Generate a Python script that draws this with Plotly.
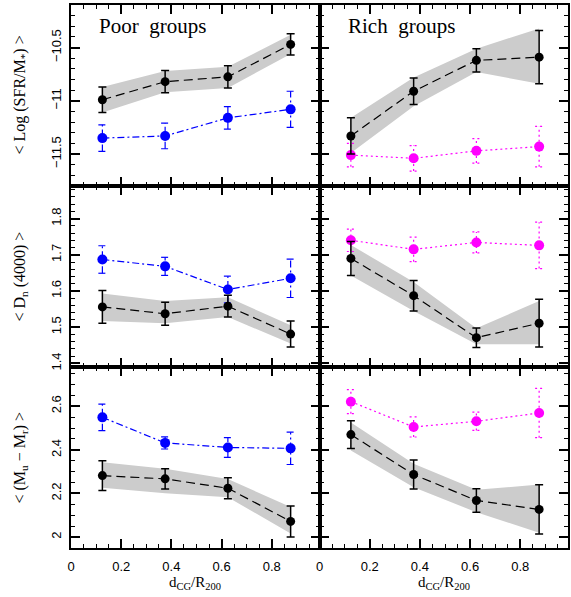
import plotly.graph_objects as go
from plotly.subplots import make_subplots

# ---------------- data ----------------
x_bins = [0.125, 0.375, 0.625, 0.875]
x_tick_vals = [0, 0.2, 0.4, 0.6, 0.8]

# Poor groups, <Log SFR/M*>
poor_sfr_all = [-10.99, -10.82, -10.775, -10.47]
poor_sfr_all_err = [0.12, 0.105, 0.105, 0.10]
poor_sfr_band_lo = [-11.11, -10.92, -10.88, -10.56]
poor_sfr_band_hi = [-10.87, -10.72, -10.68, -10.38]
poor_sfr_late = [-11.35, -11.33, -11.16, -11.08]
poor_sfr_late_err = [0.125, 0.12, 0.105, 0.17]

# Rich groups, <Log SFR/M*>
rich_sfr_all = [-11.33, -10.91, -10.62, -10.59]
rich_sfr_all_err = [0.17, 0.125, 0.11, 0.25]
rich_sfr_band_lo = [-11.49, -11.05, -10.73, -10.84]
rich_sfr_band_hi = [-11.16, -10.78, -10.51, -10.32]
rich_sfr_late = [-11.51, -11.54, -11.47, -11.43]
rich_sfr_late_err = [0.11, 0.12, 0.115, 0.19]

# Poor groups, <Dn(4000)>
poor_dn_all = [1.556, 1.537, 1.558, 1.481]
poor_dn_all_err = [0.045, 0.032, 0.03, 0.036]
poor_dn_band_lo = [1.517, 1.511, 1.528, 1.455]
poor_dn_band_hi = [1.593, 1.572, 1.583, 1.505]
poor_dn_late = [1.687, 1.668, 1.604, 1.635]
poor_dn_late_err = [0.038, 0.025, 0.037, 0.053]

# Rich groups, <Dn(4000)>
rich_dn_all = [1.690, 1.587, 1.471, 1.511]
rich_dn_all_err = [0.047, 0.042, 0.027, 0.066]
rich_dn_band_lo = [1.643, 1.545, 1.453, 1.453]
rich_dn_band_hi = [1.727, 1.625, 1.497, 1.572]
rich_dn_late = [1.740, 1.715, 1.734, 1.726]
rich_dn_late_err = [0.031, 0.034, 0.029, 0.064]

# Poor groups, <Mu - Mr>
poor_col_all = [2.282, 2.267, 2.224, 2.072]
poor_col_all_err = [0.068, 0.046, 0.048, 0.071]
poor_col_band_lo = [2.226, 2.201, 2.183, 2.016]
poor_col_band_hi = [2.343, 2.313, 2.266, 2.138]
poor_col_late = [2.549, 2.432, 2.411, 2.407]
poor_col_late_err = [0.061, 0.028, 0.045, 0.074]

# Rich groups, <Mu - Mr>
rich_col_all = [2.47, 2.287, 2.168, 2.127]
rich_col_all_err = [0.064, 0.067, 0.054, 0.113]
rich_col_band_lo = [2.397, 2.229, 2.114, 2.02]
rich_col_band_hi = [2.526, 2.336, 2.217, 2.241]
rich_col_late = [2.621, 2.505, 2.531, 2.569]
rich_col_late_err = [0.055, 0.046, 0.042, 0.113]

y_ranges = [[-11.8, -10.1], [1.39, 1.89], [1.95, 2.78]]
y_dticks = [0.5, 0.1, 0.2]
y_minor = [0.1, 0.02, 0.05]
y_titles = ["&lt; Log (SFR/M<sub>*</sub>) &gt;",
            "&lt; D<sub>n</sub> (4000) &gt;",
            "&lt; (M<sub>u</sub> − M<sub>r</sub>) &gt;"]
panel_titles = ["Poor&nbsp; groups", "Rich&nbsp; groups"]
x_title = "d<sub>CG</sub>/R<sub>200</sub>"

panels = [
    # row, col, all, all_err, band_lo, band_hi, late, late_err, color, dash
    (1, 1, poor_sfr_all, poor_sfr_all_err, poor_sfr_band_lo, poor_sfr_band_hi, poor_sfr_late, poor_sfr_late_err, "#0000ff", "7px,3px,2px,3px"),
    (1, 2, rich_sfr_all, rich_sfr_all_err, rich_sfr_band_lo, rich_sfr_band_hi, rich_sfr_late, rich_sfr_late_err, "#ff00ff", "2px,3px"),
    (2, 1, poor_dn_all, poor_dn_all_err, poor_dn_band_lo, poor_dn_band_hi, poor_dn_late, poor_dn_late_err, "#0000ff", "7px,3px,2px,3px"),
    (2, 2, rich_dn_all, rich_dn_all_err, rich_dn_band_lo, rich_dn_band_hi, rich_dn_late, rich_dn_late_err, "#ff00ff", "2px,3px"),
    (3, 1, poor_col_all, poor_col_all_err, poor_col_band_lo, poor_col_band_hi, poor_col_late, poor_col_late_err, "#0000ff", "7px,3px,2px,3px"),
    (3, 2, rich_col_all, rich_col_all_err, rich_col_band_lo, rich_col_band_hi, rich_col_late, rich_col_late_err, "#ff00ff", "2px,3px"),
]

fig = make_subplots(rows=3, cols=2, horizontal_spacing=0, vertical_spacing=0)

CAP = 0.016  # half-width of error-bar caps in x data units

for (r, c, ya, ye, blo, bhi, yl, yle, col, dash) in panels:
    # gray band
    fig.add_trace(go.Scatter(
        x=list(x_bins) + list(x_bins[::-1]),
        y=list(bhi) + list(blo[::-1]),
        fill="toself", fillcolor="#cccccc", mode="none",
        line=dict(width=0), hoverinfo="skip"), row=r, col=c)
    # coloured error bars (styled lines)
    ex, ey = [], []
    for xv, yv, ev in zip(x_bins, yl, yle):
        ex += [xv, xv, None, xv - CAP, xv + CAP, None, xv - CAP, xv + CAP, None]
        ey += [yv - ev, yv + ev, None, yv - ev, yv - ev, None, yv + ev, yv + ev, None]
    fig.add_trace(go.Scatter(x=ex, y=ey, mode="lines",
                             line=dict(color=col, width=1.2, dash=dash),
                             hoverinfo="skip"), row=r, col=c)
    fig.add_trace(go.Scatter(x=x_bins, y=yl, mode="lines+markers",
                             line=dict(color=col, width=1.2, dash=dash),
                             marker=dict(color=col, size=10)), row=r, col=c)
    # black sample
    fig.add_trace(go.Scatter(x=x_bins, y=ya, mode="lines+markers",
                             line=dict(color="black", width=1.2, dash="9px,5px"),
                             marker=dict(color="black", size=9),
                             error_y=dict(type="data", array=ye, color="black",
                                          thickness=1.5, width=4)), row=r, col=c)

axis_common = dict(showline=True, linecolor="black", linewidth=2, mirror="ticks",
                   ticks="inside", ticklen=9, tickwidth=1.5, tickcolor="black",
                   showgrid=False, zeroline=False,
                   tickfont=dict(family="Liberation Sans, Arial, sans-serif", size=13, color="black"))

for r in range(1, 4):
    for c in range(1, 3):
        fig.update_xaxes(range=[0, 0.99], tickmode="array", tickvals=x_tick_vals,
                         minor=dict(dtick=0.05, tick0=0, ticklen=4, tickwidth=1,
                                    ticks="inside", tickcolor="black"),
                         showticklabels=(r == 3), ticklabelstandoff=5,
                         row=r, col=c, **axis_common)
        fig.update_yaxes(range=y_ranges[r - 1], dtick=y_dticks[r - 1], tick0=0,
                         minor=dict(dtick=y_minor[r - 1], tick0=0, ticklen=4, tickwidth=1,
                                    ticks="inside", tickcolor="black"),
                         showticklabels=(c == 1), tickangle=-90, ticklabelstandoff=3,
                         row=r, col=c, **axis_common)

serif = "Liberation Serif, Times New Roman, serif"
annotations = []
# panel titles
for c, t in zip([1, 2], panel_titles):
    xr = "x domain" if c == 1 else "x2 domain"
    yr = "y domain" if c == 1 else "y2 domain"
    annotations.append(dict(text=t, x=0.105, y=0.884, xref=xr, yref=yr,
                            xanchor="left", yanchor="middle", showarrow=False,
                            font=dict(family=serif, size=21, color="black")))
# y titles
for r, t in zip([1, 2, 3], y_titles):
    yr = {1: "y domain", 2: "y3 domain", 3: "y5 domain"}[r]
    annotations.append(dict(text=t, x=0, y=0.5, xref="paper", yref=yr,
                            xanchor="center", yanchor="middle", xshift=-51,
                            textangle=-90, showarrow=False,
                            font=dict(family=serif, size=16, color="black")))
# x titles
for xr in ["x5 domain", "x6 domain"]:
    annotations.append(dict(text=x_title, x=0.5, y=0, xref=xr, yref="paper",
                            xanchor="center", yanchor="middle", yshift=-35,
                            showarrow=False,
                            font=dict(family=serif, size=15, color="black")))

fig.update_layout(width=571, height=597, margin=dict(l=71, r=1, t=5, b=49),
                  plot_bgcolor="white", paper_bgcolor="white", showlegend=False,
                  annotations=annotations)

fig.write_html("out.html")
